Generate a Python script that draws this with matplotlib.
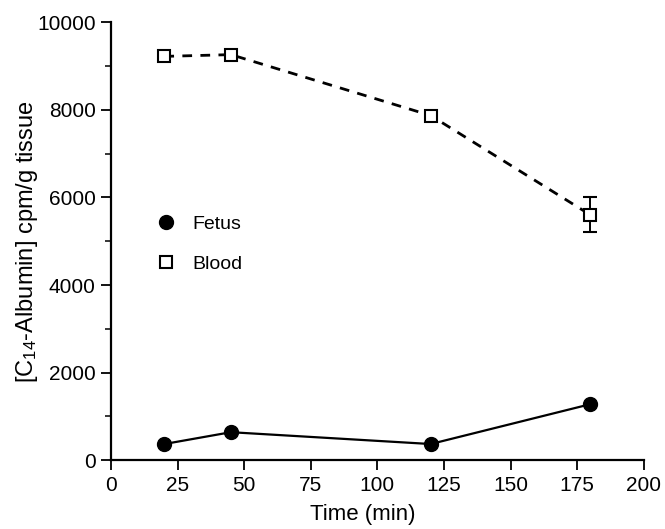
import numpy as np
import matplotlib.pyplot as plt
from matplotlib.ticker import MultipleLocator

plt.rcParams['font.family'] = ['Liberation Sans', 'DejaVu Sans']
plt.rcParams['mathtext.fontset'] = 'custom'
plt.rcParams['mathtext.rm'] = 'Liberation Sans'
plt.rcParams['mathtext.it'] = 'Liberation Sans'

# data
time = [20, 45, 120, 180]
fetus = [370, 640, 370, 1280]
blood = [9220, 9260, 7870, 5600]
blood_err = [0, 0, 0, 400]

fig = plt.figure(figsize=(6.65, 5.29), dpi=100)
ax = fig.add_axes([0.167, 0.130, 0.801, 0.828])

ax.plot(time, fetus, c="k", lw=1.6, marker="o", ms=10, mfc="k", mec="k",
        zorder=3)
ax.errorbar(time, blood, yerr=blood_err, c="k", lw=2.0, ls=(0, (3.5, 3)),
            marker="s", ms=9, mfc="white", mec="k", mew=1.5,
            ecolor="k", elinewidth=1.4, capsize=5, capthick=1.4,
            zorder=3)

ax.set_xlim(0, 200)
ax.set_ylim(0, 10000)
ax.xaxis.set_major_locator(MultipleLocator(25))
ax.yaxis.set_major_locator(MultipleLocator(2000))
ax.yaxis.set_minor_locator(MultipleLocator(1000))
ax.spines['top'].set_visible(False)
ax.spines['right'].set_visible(False)
ax.spines['left'].set_linewidth(1.6)
ax.spines['bottom'].set_linewidth(1.6)
ax.tick_params(which='major', length=7, width=1.3, labelsize=15, pad=4)
ax.tick_params(which='minor', length=4, width=1.1)

ax.set_xlabel("Time (min)", fontsize=16)
ax.set_ylabel(r"[C$_{14}$-Albumin] cpm/g tissue", fontsize=17)
ax.xaxis.set_label_coords(0.473, -0.100)
ax.yaxis.set_label_coords(-0.133, 0.5)

h_f = plt.Line2D([], [], ls="none", marker="o", ms=10, mfc="k", mec="k")
h_b = plt.Line2D([], [], ls="none", marker="s", ms=9, mfc="white", mec="k", mew=1.5)
ax.legend([h_f, h_b], ["Fetus", "Blood"], frameon=False, fontsize=14,
          loc="upper left", bbox_to_anchor=(0.043, 0.60), handletextpad=0.6,
          handlelength=1.5, labelspacing=1.15)

plt.savefig("out.png", dpi=100)
